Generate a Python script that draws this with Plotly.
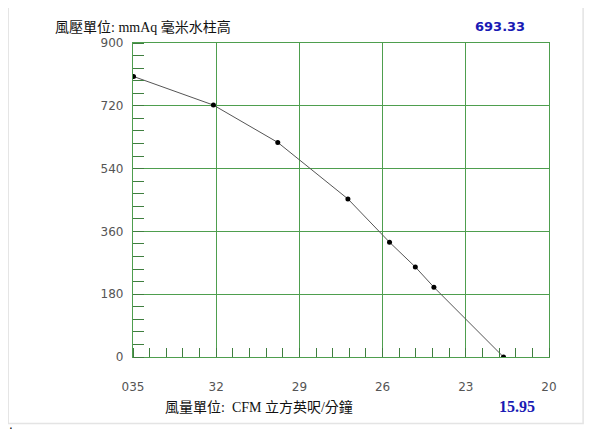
import plotly.graph_objects as go

# fan curve
cfm = [34.98, 32.10, 29.78, 27.25, 25.75, 24.82, 24.15, 21.64]
pressure = [804, 722, 615, 453, 329, 258, 200, 0]

x_ticks = [35, 32, 29, 26, 23, 20]
x_tick_text = ["035", "32", "29", "26", "23", "20"]
y_ticks = [0, 180, 360, 540, 720, 900]

pressure_unit = "風壓單位: mmAq 毫米水柱高"
flow_unit = "風量單位:  CFM 立方英呎/分鐘"
pressure_value = "693.33"
flow_value = "15.95"

grid_green = "#4e9e4e"
tick_font = dict(family="DejaVu Sans, Verdana", size=12, color="#555555")

fig = go.Figure()
fig.add_trace(go.Scatter(
    x=cfm, y=pressure, mode="lines+markers",
    line=dict(color="#555555", width=1),
    marker=dict(color="black", size=5),
    hoverinfo="skip",
))

fig.update_xaxes(
    range=[35, 20], tickvals=x_ticks, ticktext=x_tick_text,
    showgrid=True, gridcolor=grid_green, gridwidth=1.3,
    showline=True, linecolor=grid_green, linewidth=1.3, mirror=True,
    zeroline=False, ticks="", ticklabelstandoff=18, tickfont=tick_font,
    minor=dict(dtick=0.6, tick0=35, ticks="inside", ticklen=9,
               tickcolor="#3f7f3f", tickwidth=1, showgrid=False),
)
fig.update_yaxes(
    range=[0, 900], tickvals=y_ticks,
    showgrid=True, gridcolor=grid_green, gridwidth=1.3,
    showline=True, linecolor=grid_green, linewidth=1.3, mirror=True,
    zeroline=False, ticks="", ticklabelstandoff=6, tickfont=tick_font,
    minor=dict(dtick=36, tick0=0, ticks="inside", ticklen=11,
               tickcolor="#3f7f3f", tickwidth=1, showgrid=False),
)

# light frame around the panel
fig.add_shape(type="rect", xref="paper", yref="paper",
              x0=-0.300, x1=1.082, y0=-0.212, y1=1.118,
              line=dict(color="#e4e4e4", width=1.5), layer="below")

serif_cjk = "Liberation Serif, Noto Sans CJK TC"
fig.add_annotation(text=pressure_unit, xref="paper", yref="paper",
                   x=-0.192, y=1.051, xanchor="left", yanchor="middle",
                   showarrow=False, font=dict(family=serif_cjk, size=14, color="#111111"))
fig.add_annotation(text="<b>" + pressure_value + "</b>", xref="paper", yref="paper",
                   x=0.882, y=1.051, xanchor="center", yanchor="middle",
                   showarrow=False, font=dict(family="DejaVu Sans", size=13, color="#1a1ab4"))
fig.add_annotation(text=flow_unit, xref="paper", yref="paper",
                   x=0.073, y=-0.158, xanchor="left", yanchor="middle",
                   showarrow=False, font=dict(family=serif_cjk, size=14, color="#111111"))
fig.add_annotation(text="<b>" + flow_value + "</b>", xref="paper", yref="paper",
                   x=0.923, y=-0.158, xanchor="center", yanchor="middle",
                   showarrow=False, font=dict(family="Liberation Serif", size=16, color="#1a1ab4"))
fig.add_annotation(text=".", xref="paper", yref="paper",
                   x=-0.302, y=-0.215, xanchor="left", yanchor="middle",
                   showarrow=False, font=dict(family="DejaVu Sans", size=12, color="black"))

fig.update_layout(
    width=584, height=430,
    margin=dict(l=125, r=43, t=35, b=81),
    paper_bgcolor="white", plot_bgcolor="white",
    showlegend=False,
)

fig.write_html("out.html")
